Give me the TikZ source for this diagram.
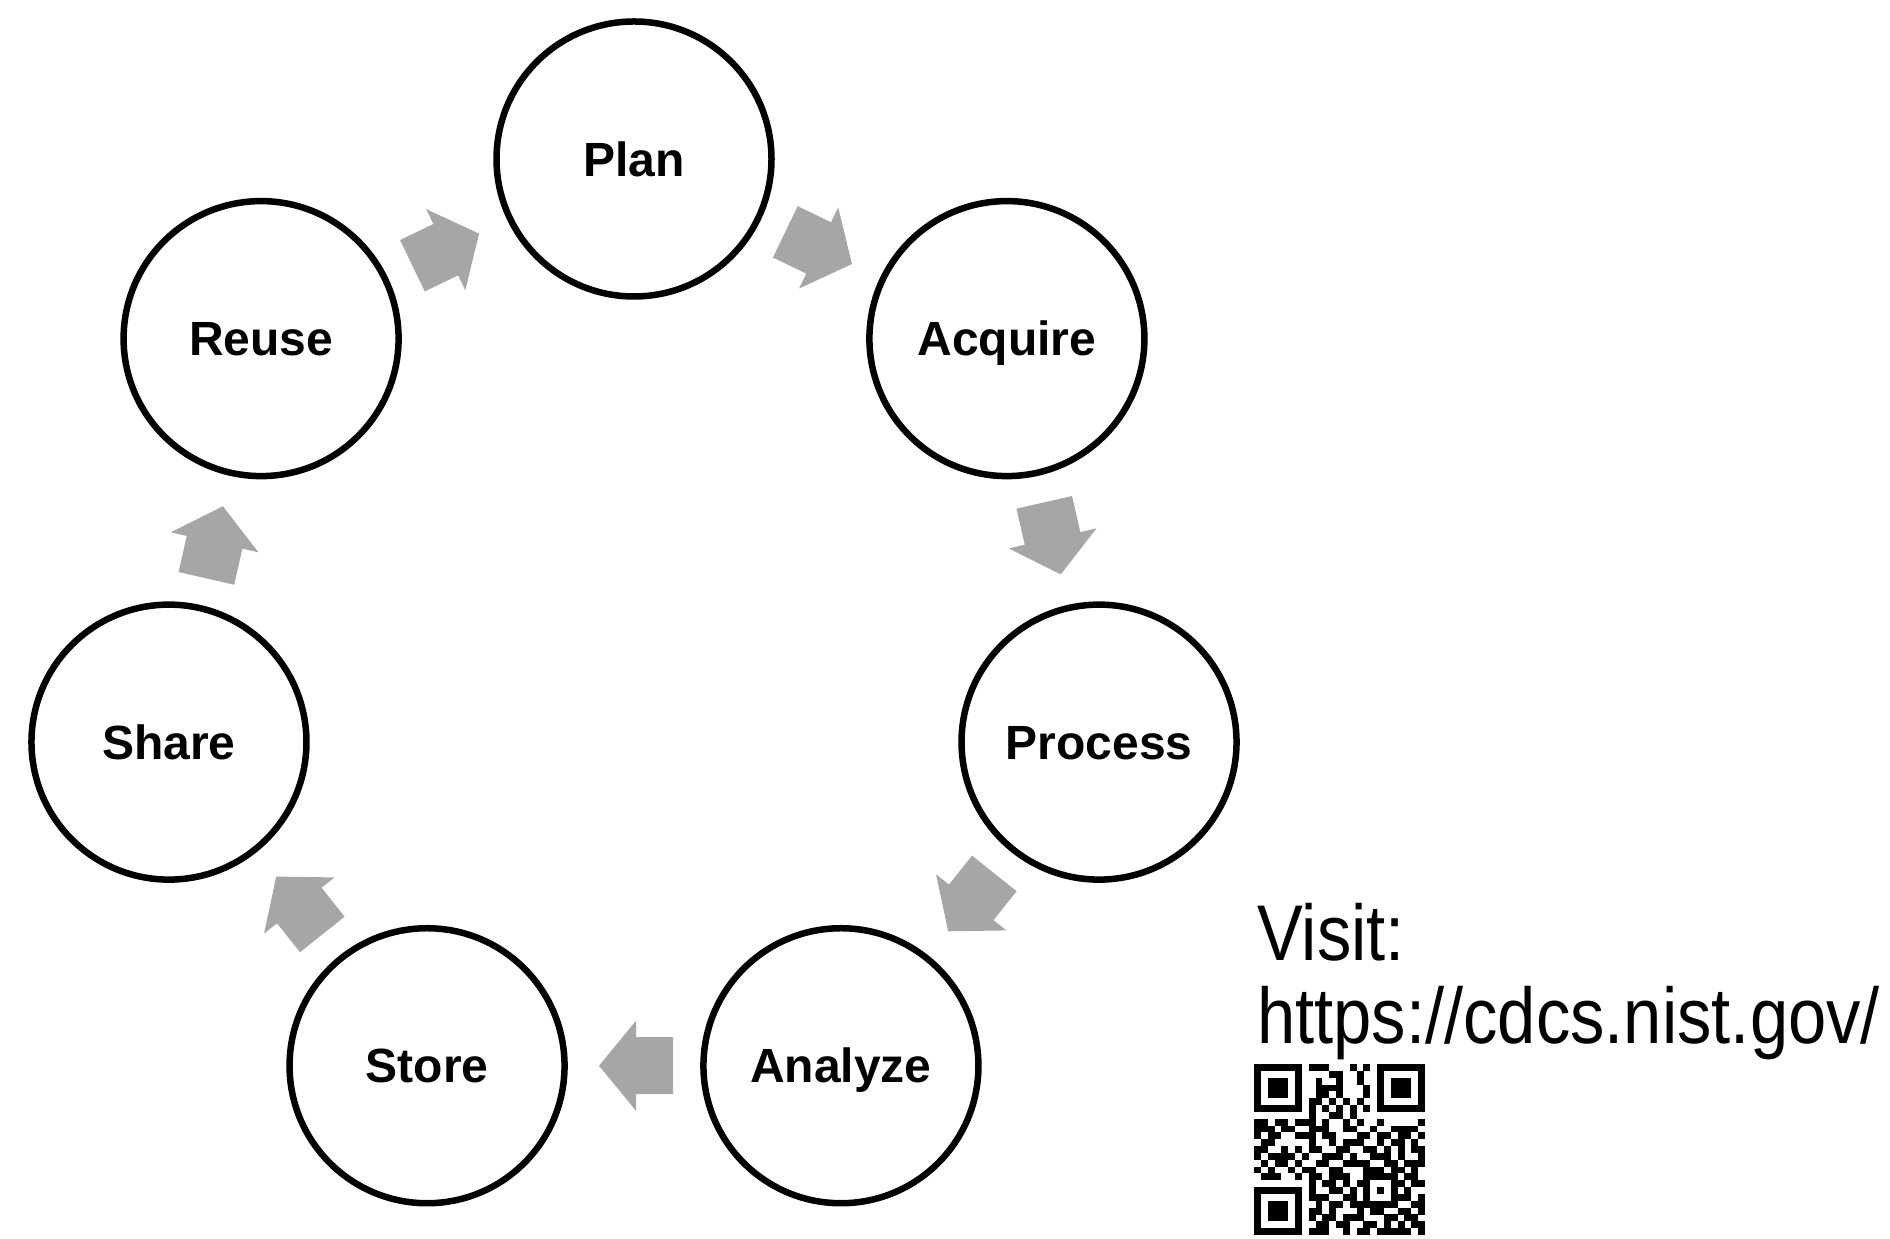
\documentclass[tikz,border=0pt]{standalone}
\usepackage{fontspec}
\setmainfont{Liberation Sans}
\newfontfamily\narrowfont[FakeStretch=0.87]{Liberation Sans}
\usetikzlibrary{calc}
\definecolor{arrowgray}{HTML}{A6A6A6}
\newcount\qrcol
\newcommand\qrrow[2]{\qrcol=0 \def\qrr{#1}\qrscan#2.}
\def\qrscan#1{\ifx#1.\else\ifx#11\qrbox\fi\advance\qrcol by 1 \expandafter\qrscan\fi}
\def\qrbox{\fill[black] ({1254+\the\qrcol*6.84},{175-\qrr*6.84}) rectangle ++(6.9,-6.9);}
\newcommand\blockarrow[3]{\fill[arrowgray, shift={($(#1)!0.5!(#2)$)}, rotate=#3] (-39,-28.5) -- (-2,-28.5) -- (-2,-45) -- (35,0) -- (-2,45) -- (-2,28.5) -- (-39,28.5) -- cycle;}
\tikzset{
  stage/.style={circle, draw=black, line width=6.5pt, minimum size=275pt, inner sep=0pt,
    font=\fontsize{48}{57}\selectfont\bfseries, text height=34.5pt, text depth=0pt},
  visittext/.style={anchor=base west, inner sep=0pt, font=\narrowfont\fontsize{79}{95}\selectfont}
}
\begin{document}
\begin{tikzpicture}[x=1pt,y=1pt]
\useasboundingbox[fill=white] (0,0) rectangle (1890,1239);
\coordinate (ctr) at (634,603);
\node[stage] (plan)    at ($(ctr)+(90:477)$) {Plan};
\node[stage] (acquire) at ($(ctr)+(38.571:477)$) {Acquire};
\node[stage] (process) at ($(ctr)+(-12.857:477)$) {Process};
\node[stage] (analyze) at ($(ctr)+(-64.286:477)$) {Analyze};
\node[stage] (store)   at ($(ctr)+(-115.714:477)$) {Store};
\node[stage] (share)   at ($(ctr)+(-167.143:477)$) {Share};
\node[stage] (reuse)   at ($(ctr)+(141.429:477)$) {Reuse};
\blockarrow{plan}{acquire}{-25.714}
\blockarrow{acquire}{process}{-77.143}
\blockarrow{process}{analyze}{-128.571}
\blockarrow{analyze}{store}{180}
\blockarrow{store}{share}{128.571}
\blockarrow{share}{reuse}{77.143}
\blockarrow{reuse}{plan}{25.714}
\node[visittext] (visit) at (1257,278) {Visit:};
\node[visittext] (url) at (1257,195) {https://cdcs.nist.gov/};
\qrrow{0}{1111111011100010101111111}
\qrrow{1}{1000001000011001001000001}
\qrrow{2}{1011101001001001001011101}
\qrrow{3}{1011101001111000101011101}
\qrrow{4}{1011101001101000101011101}
\qrrow{5}{1000001011010101001000001}
\qrrow{6}{1111111010101010101111111}
\qrrow{7}{0000000010011010000000000}
\qrrow{8}{1101101110100101001000001}
\qrrow{9}{1110110011100110010011110}
\qrrow{10}{1011001110110001101101101}
\qrrow{11}{0110000010010111001011010}
\qrrow{12}{1100101011001100110101011}
\qrrow{13}{1011110100111010011101001}
\qrrow{14}{0101101001100111100110111}
\qrrow{15}{1010010110011000111011010}
\qrrow{16}{0111001011011100111110110}
\qrrow{17}{0000000010110101100011011}
\qrrow{18}{1111111010011010101010100}
\qrrow{19}{1000001011100110100011101}
\qrrow{20}{1011101001011011111110011}
\qrrow{21}{1011101011010001011001101}
\qrrow{22}{1011101010110111000110110}
\qrrow{23}{1000001001101100110101011}
\qrrow{24}{1111111011100101101111101}
\end{tikzpicture}
\end{document}
